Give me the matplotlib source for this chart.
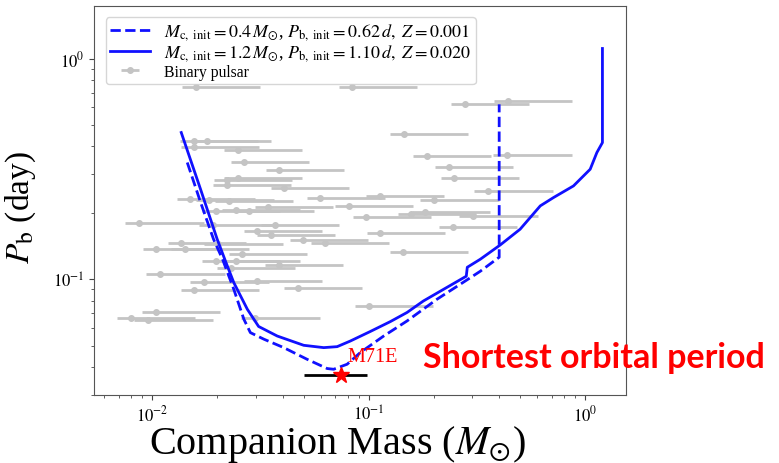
import numpy as np
import matplotlib
matplotlib.use("Agg")
import matplotlib.pyplot as plt
from matplotlib.ticker import NullFormatter, FuncFormatter

plt.rcParams['font.family'] = 'serif'
plt.rcParams['font.serif'] = ['Liberation Serif', 'DejaVu Serif']
plt.rcParams['mathtext.fontset'] = 'stix'

# evolutionary track, Mc,init = 0.4 Msun (dashed)
track1_mass = [0.01451, 0.01671, 0.01919, 0.02112, 0.0238, 0.0265, 0.0284, 0.0328, 0.0405, 0.0519,
               0.0643, 0.0689, 0.0795, 0.0916, 0.1173, 0.1504, 0.207, 0.265, 0.328, 0.401, 0.401]
track1_pb = [0.338, 0.2234, 0.1518, 0.1232, 0.0901, 0.0659, 0.0573, 0.0535, 0.0490, 0.0434,
             0.0394, 0.0391, 0.0412, 0.0466, 0.0553, 0.0647, 0.0812, 0.0949, 0.1087, 0.1258, 0.62]

# evolutionary track, Mc,init = 1.2 Msun (solid)
track2_mass = [0.01361, 0.01671, 0.01995, 0.0218, 0.0238, 0.0275, 0.0310, 0.0378, 0.0501, 0.0620,
               0.0715, 0.0823, 0.1018, 0.126, 0.1504, 0.179, 0.214, 0.2825, 0.2856, 0.328,
               0.4055, 0.501, 0.621, 0.715, 0.884, 1.056, 1.134, 1.203, 1.203]
track2_pb = [0.462, 0.2558, 0.1518, 0.1206, 0.0966, 0.0731, 0.0611, 0.0553, 0.0502, 0.0490,
             0.0495, 0.0525, 0.0580, 0.0643, 0.0707, 0.0797, 0.0882, 0.1032, 0.1133, 0.1232,
             0.1430, 0.1685, 0.215, 0.2345, 0.2647, 0.315, 0.375, 0.416, 1.11]

# binary pulsars: median companion mass (i = 60 deg) and orbital period
psr_mass = [0.01585, 0.01556, 0.01782, 0.01567, 0.02484, 0.0266, 0.0387, 0.02484, 0.0222, 0.0221,
            0.0408, 0.01498, 0.01838, 0.02258, 0.0597, 0.0809, 0.0344, 0.01966, 0.02425, 0.02805,
            0.00867, 0.01899, 0.0368, 0.0305, 0.0353, 0.0499, 0.0626, 0.01361, 0.0201, 0.01043,
            0.01414, 0.0260, 0.01966, 0.02425, 0.02299, 0.0384, 0.01084, 0.01731, 0.0305, 0.01567,
            0.0470, 0.01036, 0.00794, 0.00954, 0.0298, 0.0838, 0.2775, 0.4382, 0.1451, 0.1853,
            0.4355, 0.2341, 0.2487, 0.3558, 0.1124, 0.2004, 0.0973, 0.1575, 0.1827, 0.3034,
            0.2442, 0.1129, 0.1446, 0.100]
psr_pb = [0.739, 0.423, 0.423, 0.3977, 0.3842, 0.339, 0.3128, 0.2869, 0.2809, 0.2686,
          0.2603, 0.2305, 0.2297, 0.2256, 0.2345, 0.2158, 0.2135, 0.2033, 0.2061, 0.2033,
          0.1799, 0.1762, 0.1762, 0.1662, 0.1594, 0.1502, 0.1460, 0.1460, 0.1451, 0.1367,
          0.1364, 0.1307, 0.1210, 0.1210, 0.1130, 0.1157, 0.1054, 0.0972, 0.0982, 0.0894,
          0.0908, 0.0711, 0.0666, 0.0652, 0.0664, 0.7434, 0.621, 0.6405, 0.454, 0.3619,
          0.3645, 0.3208, 0.2890, 0.2513, 0.2385, 0.2288, 0.1923, 0.1984, 0.2018, 0.1935,
          0.1733, 0.1621, 0.1329, 0.0757]

# M71E
m71e_mass = 0.0746
m71e_mass_range = [0.050, 0.098]
m71e_pb = 0.0367

# mass range: minimum (i=90), median (i=60), upper (i=25.8)
psr_mass = np.array(psr_mass)
m_lo = psr_mass * np.sin(np.radians(60))
m_hi = psr_mass * np.sin(np.radians(60)) / np.sin(np.radians(25.8))

fig = plt.figure(figsize=(7.79, 4.64), dpi=100)
ax = fig.add_axes([0.1207, 0.1466, 0.6829, 0.8384])

ax.plot(track1_mass, track1_pb, '--', color='#1010ff', lw=2, zorder=3,
        label=r'$M_\mathrm{c,\ init} = 0.4\,M_{\odot}$, $P_\mathrm{b,\ init} = 0.62\,d,\ Z = 0.001$')
ax.plot(track2_mass, track2_pb, '-', color='#1010ff', lw=2, zorder=3,
        label=r'$M_\mathrm{c,\ init} = 1.2\,M_{\odot}$, $P_\mathrm{b,\ init} = 1.10\,d,\ Z = 0.020$')
ax.errorbar(psr_mass, psr_pb, xerr=[psr_mass - m_lo, m_hi - psr_mass], fmt='o',
            color='#c4c4c4', ms=4, elinewidth=2, capsize=0, zorder=1, label='Binary pulsar')

ax.errorbar([m71e_mass], [m71e_pb],
            xerr=[[m71e_mass - m71e_mass_range[0]], [m71e_mass_range[1] - m71e_mass]],
            fmt='none', ecolor='black', elinewidth=2, capsize=0, zorder=4)
ax.plot([m71e_mass], [m71e_pb], '*', color='red', ms=12, zorder=5)
ax.text(0.0797, 0.0448, 'M71E', color='red', fontsize=14.5, ha='left', va='center')

ax.set_xscale('log')
ax.set_yscale('log')
ax.set_xlim(0.00538, 1.546)
ax.set_ylim(0.0299, 1.73)
pow_fmt = FuncFormatter(lambda v, pos: r'$10^{%d}$' % int(round(np.log10(v))))
ax.xaxis.set_major_formatter(pow_fmt)
ax.yaxis.set_major_formatter(pow_fmt)
ax.xaxis.set_minor_formatter(NullFormatter())
ax.yaxis.set_minor_formatter(NullFormatter())
ax.tick_params(labelsize=12, colors='#444444', labelcolor='black')
ax.tick_params(which='minor', colors='#444444')
for s in ax.spines.values():
    s.set_color('#555555')

ax.set_xlabel(r'Companion Mass ($M_{\odot}$)', fontsize=29)
ax.set_ylabel(r'$P_\mathrm{b}$ (day)', fontsize=24)
ax.xaxis.set_label_coords(0.457, -0.072)
ax.yaxis.set_label_coords(-0.105, 0.485)

leg = ax.legend(loc='upper left', fontsize=13, labelspacing=0.0, borderpad=0.25,
                handletextpad=0.8, handlelength=2.2, bbox_to_anchor=(0.005, 0.995))
leg.get_texts()[2].set_fontsize(11.3)

fig.text(0.543, 0.2284, 'Shortest orbital period', color='red', fontsize=24.5,
         fontweight='bold', family='Lato', ha='left', va='center')

fig.savefig('out.png', dpi=100)
